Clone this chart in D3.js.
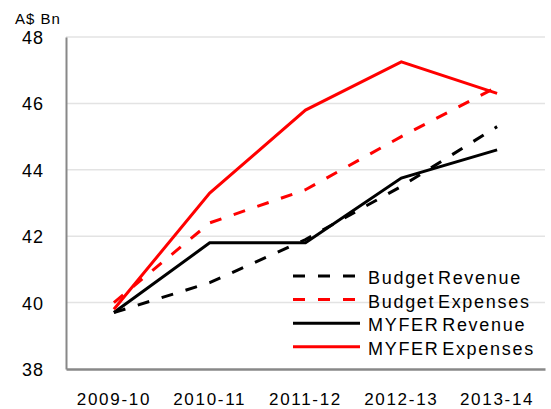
<!DOCTYPE html>
<html>
<head>
<meta charset="utf-8">
<script src="https://cdn.jsdelivr.net/npm/d3@7"></script>
<style>
  html, body { margin: 0; padding: 0; background: #fff; }
  svg text { font-family: "Liberation Sans", Arial, sans-serif; fill: #000; }
</style>
</head>
<body>
<svg id="chart" width="551" height="409"></svg>
<script>
// Financial years on the x axis
const years = ["2009-10", "2010-11", "2011-12", "2012-13", "2013-14"];

// Series values, A$ billions
const budgetRevenue  = [39.7, 40.6, 41.9, 43.5, 45.3];
const budgetExpenses = [40.0, 42.4, 43.4, 45.0, 46.5];
const myferRevenue   = [39.7, 41.8, 41.8, 43.75, 44.6];
const myferExpenses  = [39.8, 43.3, 45.8, 47.25, 46.3];

const yTicks = [38, 40, 42, 44, 46, 48];
const unitLabel = "A$ Bn";

const series = [
  { name: "Budget Revenue",  values: budgetRevenue,  color: "#000", dash: "12,13" },
  { name: "Budget Expenses", values: budgetExpenses, color: "#ff0000", dash: "12,13" },
  { name: "MYFER Revenue",   values: myferRevenue,   color: "#000", dash: null },
  { name: "MYFER Expenses",  values: myferExpenses,  color: "#ff0000", dash: null }
];

const svg = d3.select("#chart");
const plot = { left: 66, right: 545, top: 37, bottom: 369 };

const x = d3.scaleBand().domain(years).range([plot.left, plot.right]);
const y = d3.scaleLinear().domain([38, 48]).range([plot.bottom, plot.top]);

// Horizontal gridlines
svg.append("g").selectAll("line")
  .data(yTicks.filter(t => t !== 38))
  .join("line")
  .attr("x1", plot.left).attr("x2", plot.right)
  .attr("y1", d => y(d)).attr("y2", d => y(d))
  .attr("stroke", "#e3e3e3").attr("stroke-width", 1.5);

// Y axis
const yAxis = svg.append("g")
  .attr("transform", `translate(${plot.left},0)`)
  .call(d3.axisLeft(y).tickValues(yTicks).tickSize(0).tickPadding(22));
yAxis.select(".domain").attr("stroke", "#888").attr("stroke-width", 2);
yAxis.selectAll("text")
  .attr("font-size", 18)
  .attr("letter-spacing", 1)
  .attr("dy", "0.36em");

// X axis
const xAxis = svg.append("g")
  .attr("transform", `translate(0,${plot.bottom})`)
  .call(d3.axisBottom(x).tickSize(0).tickPadding(0));
xAxis.select(".domain").attr("stroke", "#888").attr("stroke-width", 2.5);
xAxis.selectAll("text")
  .attr("font-size", 17)
  .attr("letter-spacing", 1.7)
  .attr("y", 36)
  .attr("dy", 0);

// Unit label
svg.append("text")
  .attr("x", 15).attr("y", 24)
  .attr("font-size", 15)
  .attr("letter-spacing", 1)
  .text(unitLabel);

// Lines
const line = d3.line()
  .x((d, i) => x(years[i]) + x.bandwidth() / 2)
  .y(d => y(d));

svg.append("g").selectAll("path")
  .data(series)
  .join("path")
  .attr("d", d => line(d.values))
  .attr("fill", "none")
  .attr("stroke", d => d.color)
  .attr("stroke-width", 3)
  .attr("stroke-dasharray", d => d.dash);

// Legend
const legend = svg.append("g").attr("transform", "translate(293,276)");
const rows = legend.selectAll("g")
  .data(series)
  .join("g")
  .attr("transform", (d, i) => `translate(0,${i * 23.6})`);
rows.append("line")
  .attr("x1", 0).attr("x2", 67)
  .attr("stroke", d => d.color)
  .attr("stroke-width", 3)
  .attr("stroke-dasharray", d => d.dash);
rows.append("text")
  .attr("x", 75).attr("y", 8)
  .attr("font-size", 18)
  .attr("letter-spacing", 1.7)
  .attr("word-spacing", -4)
  .text(d => d.name);
</script>
</body>
</html>
